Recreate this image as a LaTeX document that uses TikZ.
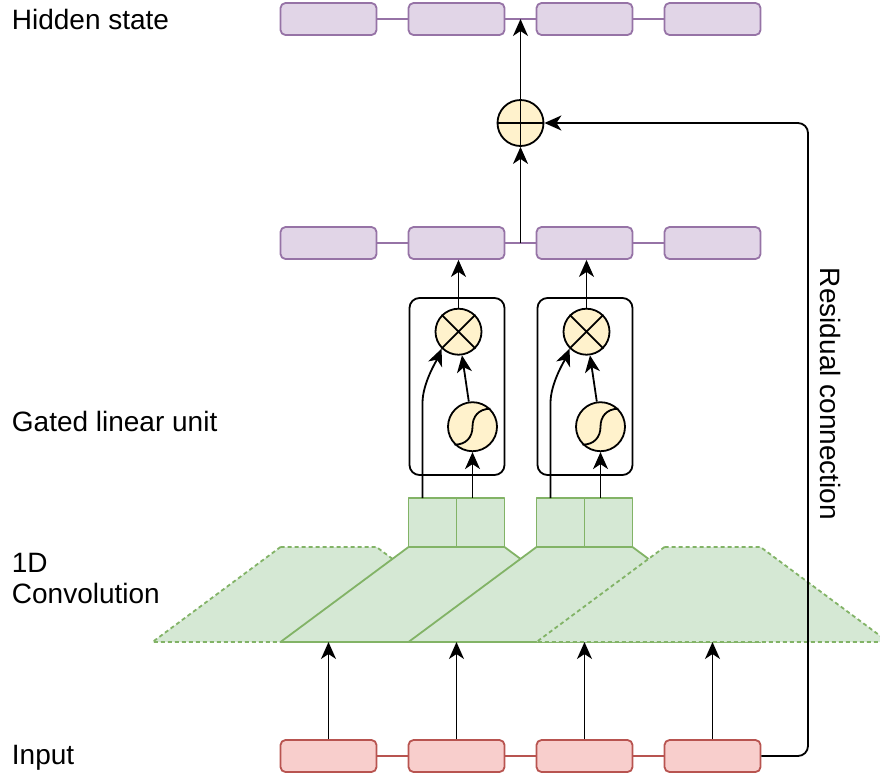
\documentclass[tikz,border=0pt]{standalone}
\usepackage{fontspec}
\setmainfont{Liberation Sans}
\usetikzlibrary{arrows.meta,calc}
\definecolor{hidfill}{HTML}{E1D5E7}
\definecolor{hiddraw}{HTML}{9673A6}
\definecolor{infill}{HTML}{F8CECC}
\definecolor{indraw}{HTML}{B85450}
\definecolor{convfill}{HTML}{D5E8D4}
\definecolor{convdraw}{HTML}{82B366}
\definecolor{opfill}{HTML}{FFF2CC}
\begin{document}
\begin{tikzpicture}[x=1pt,y=-1pt,
    line join=round,line width=1.8pt,font=\fontsize{28}{31}\selectfont,
    arr/.style={-{Stealth[length=17pt,width=15pt,inset=5pt]}},
    hid/.style={draw=hiddraw,fill=hidfill,rounded corners=5pt,minimum width=96pt,minimum height=32pt,inner sep=0pt},
    inp/.style={draw=indraw,fill=infill,rounded corners=5pt,minimum width=96pt,minimum height=32pt,inner sep=0pt},
    cell/.style={draw=convdraw,fill=convfill,minimum width=48pt,minimum height=49pt,inner sep=0pt},
    glubox/.style={draw,rounded corners=10pt,minimum width=95pt,minimum height=177pt,inner sep=0pt},
    op/.style={circle,draw,fill=opfill,minimum size=46pt,inner sep=0pt},
    sigop/.style={op,minimum size=49pt},
    convdash/.style={dash pattern=on 4pt off 3pt},
    lbl/.style={anchor=base west,inner sep=0pt}]
    \useasboundingbox (0,0) rectangle (880,777);
    % rows of states
    \foreach \i in {1,...,4}{
        \pgfmathsetmacro\cx{200.5+128*\i}
        \node[hid] (hs\i) at (\cx,19) {};
        \node[hid] (gl\i) at (\cx,243) {};
        \node[inp] (in\i) at (\cx,756) {};
        \coordinate (tb\i) at (\cx,642);
    }
    \foreach \i/\j in {1/2,2/3,3/4}{
        \draw[hiddraw] (hs\i) -- (hs\j);
        \draw[hiddraw] (gl\i) -- (gl\j);
        \draw[indraw] (in\i) -- (in\j);
    }
    % convolution windows
    \begin{scope}
        \clip (0,0) rectangle (880,777);
        \foreach \c/\sty in {328.5/convdash,456.5/solid,584.5/solid,712.5/convdash}
            \draw[convdraw,fill=convfill,\sty] (\c-48,547) -- (\c+48,547) -- (\c+176,642) -- (\c-176,642) -- cycle;
    \end{scope}
    \foreach \i in {1,...,4} \draw[arr] (in\i) -- (tb\i);
    % gated linear units
    \foreach \i/\c/\o in {1/456.5/2,2/584.5/3}{
        \node[cell] (ca\i) at (\c-24,522.5) {};
        \node[cell] (cb\i) at (\c+24,522.5) {};
        \node[glubox] (glu\i) at (\c+0.5,386.5) {};
        \node[op] (mul\i) at (\c+2,331.7) {};
        \node[sigop] (sig\i) at (\c+16,426.7) {};
        \draw (mul\i.north west) -- (mul\i.south east) (mul\i.north east) -- (mul\i.south west);
        \draw (sig\i.south west) .. controls +(12pt,0pt) and +(0pt,-10pt) .. (sig\i.center)
            .. controls +(0pt,10pt) and +(-12pt,0pt) .. (sig\i.north east);
        \coordinate (ga\i) at (\c-34,498);
        \coordinate (gb\i) at (\c+16,498);
        \draw[arr] (ga\i) -- ++(0,-95) .. controls +(0,-20) and +(-5,12) .. (mul\i.south west);
        \draw[arr] (gb\i) -- (sig\i);
        \draw[arr] (sig\i) -- (mul\i);
        \draw[arr] (mul\i.north) -- (mul\i.north |- gl\o.south);
    }
    % residual sum
    \node[op] (add) at (520.5,123) {};
    \draw (add.north) -- (add.south) (add.west) -- (add.east);
    \draw[arr] ($(gl2.east)!0.5!(gl3.west)$) -- (add.south);
    \draw[arr] (add.north) -- ($(hs2.east)!0.5!(hs3.west)$);
    \coordinate (res) at (808,123);
    \draw[arr,rounded corners=10pt] (in4.east) -| (res) -- (add.east);
    % labels
    \node[lbl] (hidlbl) at (11,29) {Hidden state};
    \node[lbl] (glulbl) at (11,431) {Gated linear unit};
    \node[anchor=west,align=left,inner sep=0pt] (convlbl) at (11,578) {1D\\Convolution};
    \node[lbl] (inplbl) at (11,764) {Input};
    \node[rotate=-90,anchor=base,inner sep=0pt] (reslbl) at (820,394) {Residual connection};
\end{tikzpicture}
\end{document}
